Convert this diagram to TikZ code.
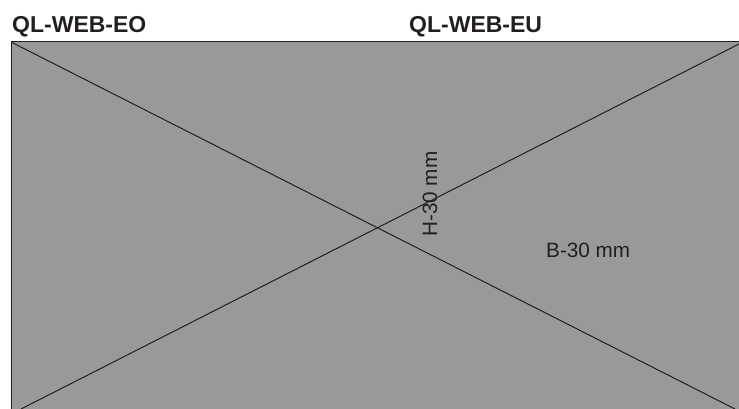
\documentclass[tikz,border=0pt]{standalone}
\usepackage{fontspec}
\setmainfont{Liberation Sans}
\definecolor{panel}{HTML}{999999}
\definecolor{ink}{HTML}{231F20}
\begin{document}
\begin{tikzpicture}[x=1pt,y=-1pt,
  title/.style={font=\fontsize{23}{23}\selectfont\bfseries, text=ink, inner sep=0pt, anchor=base west},
  lbl/.style={font=\fontsize{20.7}{20.7}\selectfont, text=ink, inner sep=0pt},
  edge/.style={draw=ink, line width=1pt}]
\useasboundingbox (0,0) rectangle (739,409);
\begin{scope}
\clip (0,0) rectangle (739,409);
\fill[panel] (11,42) rectangle (745,415);
\draw[edge] (11,415) -- (11,42) -- (745,42);
\coordinate (tl) at (11,42);
\coordinate (br) at (735,409);
\coordinate (bl) at (21,409);
\coordinate (tr) at (739,44);
\draw[edge] (tl) -- (br);
\draw[edge] (bl) -- (tr);
\end{scope}
\node[title] (eo) at (12,33) {QL-WEB-EO};
\node[title] (eu) at (409,33) {QL-WEB-EU};
\node[lbl, anchor=base west, rotate=90] (h) at (437,237) {H-30 mm};
\node[lbl, anchor=base west] (b) at (546,257) {B-30 mm};
\end{tikzpicture}
\end{document}
